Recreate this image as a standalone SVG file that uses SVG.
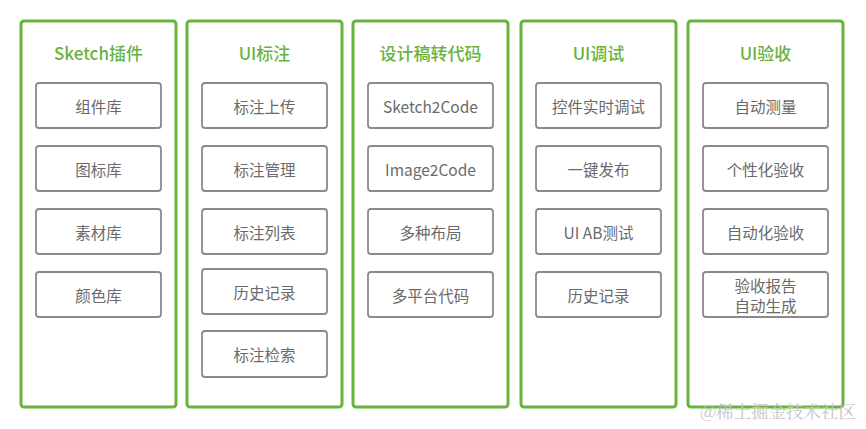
<svg xmlns="http://www.w3.org/2000/svg" width="866" height="429" viewBox="0 0 866 429">
<style>
.col{fill:#fff;stroke:#6ab23e;stroke-width:3;}
.box{fill:#fff;stroke:#8a8a8a;stroke-width:1.8;}
.title{font-family:"Noto Sans CJK SC","Noto Sans",sans-serif;font-size:17px;font-weight:500;fill:#6ab23e;text-anchor:middle;dominant-baseline:central;}
.lbl{font-family:"Noto Sans CJK SC","Noto Sans",sans-serif;font-size:15.5px;fill:#6a6a6a;text-anchor:middle;dominant-baseline:central;}
.wm{font-family:"Noto Serif CJK SC","Liberation Serif","Noto Sans CJK SC",serif;font-size:17.5px;fill:#c4c4c4;}
</style>
<rect width="866" height="429" fill="#fff"/>
<g id="col1">
<rect class="col" x="21" y="21" width="155" height="386" rx="3"/>
<text class="title" x="98.5" y="52">Sketch插件</text>
<g id="c1n1"><rect class="box" x="36" y="83" width="125" height="45" rx="3"/><text class="lbl" x="98.5" y="105.5">组件库</text></g>
<g id="c1n2"><rect class="box" x="36" y="146" width="125" height="45" rx="3"/><text class="lbl" x="98.5" y="168.5">图标库</text></g>
<g id="c1n3"><rect class="box" x="36" y="209" width="125" height="45" rx="3"/><text class="lbl" x="98.5" y="231.5">素材库</text></g>
<g id="c1n4"><rect class="box" x="36" y="272" width="125" height="45" rx="3"/><text class="lbl" x="98.5" y="294.5">颜色库</text></g>
</g>
<g id="col2">
<rect class="col" x="187" y="21" width="155" height="386" rx="3"/>
<text class="title" x="264.5" y="52">UI标注</text>
<g id="c2n1"><rect class="box" x="202" y="83" width="125" height="45" rx="3"/><text class="lbl" x="264.5" y="105.5">标注上传</text></g>
<g id="c2n2"><rect class="box" x="202" y="146" width="125" height="45" rx="3"/><text class="lbl" x="264.5" y="168.5">标注管理</text></g>
<g id="c2n3"><rect class="box" x="202" y="209" width="125" height="45" rx="3"/><text class="lbl" x="264.5" y="231.5">标注列表</text></g>
<g id="c2n4"><rect class="box" x="202" y="269" width="125" height="45" rx="3"/><text class="lbl" x="264.5" y="291.5">历史记录</text></g>
<g id="c2n5"><rect class="box" x="202" y="331" width="125" height="46" rx="3"/><text class="lbl" x="264.5" y="354">标注检索</text></g>
</g>
<g id="col3">
<rect class="col" x="353" y="21" width="155" height="386" rx="3"/>
<text class="title" x="430.5" y="52">设计稿转代码</text>
<g id="c3n1"><rect class="box" x="368" y="83" width="125" height="45" rx="3"/><text class="lbl" x="430.5" y="105.5">Sketch2Code</text></g>
<g id="c3n2"><rect class="box" x="368" y="146" width="125" height="45" rx="3"/><text class="lbl" x="430.5" y="168.5">Image2Code</text></g>
<g id="c3n3"><rect class="box" x="368" y="209" width="125" height="45" rx="3"/><text class="lbl" x="430.5" y="231.5">多种布局</text></g>
<g id="c3n4"><rect class="box" x="368" y="272" width="125" height="45" rx="3"/><text class="lbl" x="430.5" y="294.5">多平台代码</text></g>
</g>
<g id="col4">
<rect class="col" x="521" y="21" width="155" height="386" rx="3"/>
<text class="title" x="598.5" y="52">UI调试</text>
<g id="c4n1"><rect class="box" x="536" y="83" width="125" height="45" rx="3"/><text class="lbl" x="598.5" y="105.5">控件实时调试</text></g>
<g id="c4n2"><rect class="box" x="536" y="146" width="125" height="45" rx="3"/><text class="lbl" x="598.5" y="168.5">一键发布</text></g>
<g id="c4n3"><rect class="box" x="536" y="209" width="125" height="45" rx="3"/><text class="lbl" x="598.5" y="231.5">UI AB测试</text></g>
<g id="c4n4"><rect class="box" x="536" y="272" width="125" height="45" rx="3"/><text class="lbl" x="598.5" y="294.5">历史记录</text></g>
</g>
<g id="col5">
<rect class="col" x="688" y="21" width="155" height="386" rx="3"/>
<text class="title" x="765.5" y="52">UI验收</text>
<g id="c5n1"><rect class="box" x="703" y="83" width="125" height="45" rx="3"/><text class="lbl" x="765.5" y="105.5">自动测量</text></g>
<g id="c5n2"><rect class="box" x="703" y="146" width="125" height="45" rx="3"/><text class="lbl" x="765.5" y="168.5">个性化验收</text></g>
<g id="c5n3"><rect class="box" x="703" y="209" width="125" height="45" rx="3"/><text class="lbl" x="765.5" y="231.5">自动化验收</text></g>
<g id="c5n4"><rect class="box" x="703" y="272" width="125" height="45" rx="3"/><text class="lbl" x="765.5" y="285">验收报告</text><text class="lbl" x="765.5" y="305">自动生成</text></g>
</g>
<g id="connectors"></g>
<text class="wm" x="700" y="418">@稀土掘金技术社区</text>
</svg>
